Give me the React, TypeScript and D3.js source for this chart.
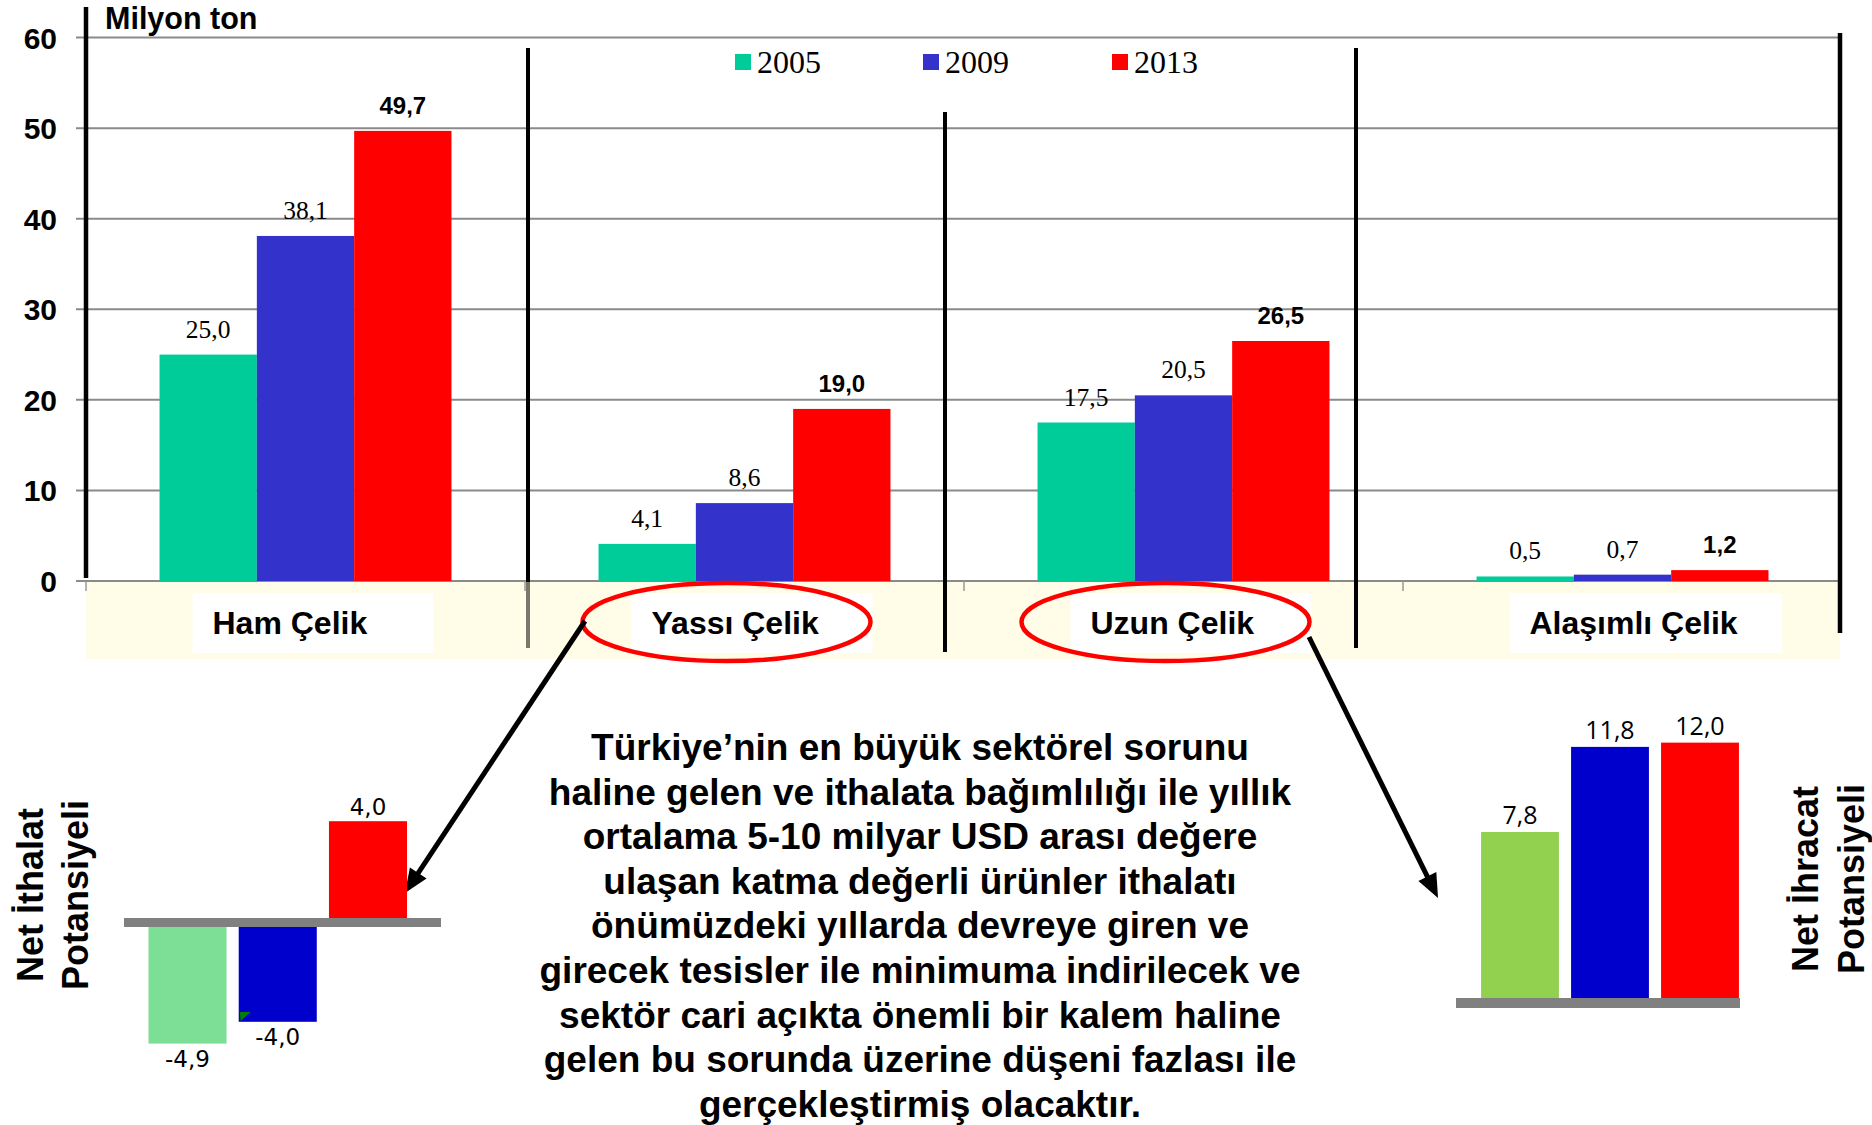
import React, { useMemo } from 'react';
import * as d3 from 'd3';

// ---------- data ----------
const categories = ['Ham Çelik', 'Yassı Çelik', 'Uzun Çelik', 'Alaşımlı Çelik'];
const years = ['2005', '2009', '2013'];
const values2005 = [25.0, 4.1, 17.5, 0.5];
const values2009 = [38.1, 8.6, 20.5, 0.7];
const values2013 = [49.7, 19.0, 26.5, 1.2];
const yTicks = [0, 10, 20, 30, 40, 50, 60];
const unitLabel = 'Milyon ton';
const highlighted = ['Yassı Çelik', 'Uzun Çelik'];

const importValues = [-4.9, -4.0, 4.0];
const exportValues = [7.8, 11.8, 12.0];
const importTitle = ['Net İthalat', 'Potansiyeli'];
const exportTitle = ['Net İhracat', 'Potansiyeli'];

const noteLines = [
  'Türkiye’nin en büyük sektörel sorunu',
  'haline gelen ve ithalata bağımlılığı ile yıllık',
  'ortalama 5-10 milyar USD arası değere',
  'ulaşan katma değerli ürünler ithalatı',
  'önümüzdeki yıllarda devreye giren ve',
  'girecek tesisler ile minimuma indirilecek ve',
  'sektör cari açıkta önemli bir kalem haline',
  'gelen bu sorunda üzerine düşeni fazlası ile',
  'gerçekleştirmiş olacaktır.',
];

const seriesColors = ['#00CC99', '#3333CC', '#FF0000'];
const importColors = ['#7DDF96', '#0000CC', '#FF0000'];
const exportColors = ['#92D050', '#0000CC', '#FF0000'];

const SANS = "'Liberation Sans', Arial, sans-serif";
const SERIF = "'Liberation Serif', 'Times New Roman', serif";

const fmt = (v: number) => d3.format('.1f')(v).replace('.', ',').replace('\u2212', '-');

function measure(text: string, font: string) {
  if (typeof document === 'undefined') return text.length * 16;
  const c = document.createElement('canvas');
  const ctx = c.getContext('2d');
  if (!ctx) return text.length * 16;
  ctx.font = font;
  return ctx.measureText(text).width;
}

function Arrow({ x1, y1, x2, y2 }: { x1: number; y1: number; x2: number; y2: number }) {
  const ang = Math.atan2(y2 - y1, x2 - x1);
  const len = 24;
  const hw = 10;
  const bx = x2 - len * Math.cos(ang);
  const by = y2 - len * Math.sin(ang);
  const px = -Math.sin(ang);
  const py = Math.cos(ang);
  const pts = [
    [x2, y2],
    [bx + px * hw, by + py * hw],
    [bx - px * hw, by - py * hw],
  ];
  return (
    <g>
      <line x1={x1} y1={y1} x2={bx + 2 * Math.cos(ang)} y2={by + 2 * Math.sin(ang)} stroke="#000" strokeWidth={5} />
      <polygon points={pts.map((p) => p.join(',')).join(' ')} fill="#000" />
    </g>
  );
}

export default function App() {
  const W = 1872;
  const H = 1125;

  // main chart scales
  const y = d3.scaleLinear().domain([0, 60]).range([581, 37.6]);
  const x0 = d3.scaleBand<string>().domain(categories).range([86, 1842]).paddingInner(0.335).paddingOuter(0.1675);
  const x1 = d3.scaleBand<string>().domain(years).range([0, x0.bandwidth()]);
  const step = x0.step();
  const series = [values2005, values2009, values2013];

  const labelWidths = useMemo(
    () => categories.map((c) => measure(c, `bold 32px ${SANS}`)),
    []
  );

  // import mini chart: positive bars rise from the top of the gray base, negative ones hang below it
  const xi = d3.scaleBand<string>().domain(years).range([142.4, 413.1]).paddingInner(0.135).paddingOuter(0.0675);
  const kI = d3.scaleLinear().domain([0, 1]).range([0, 24.2]);
  const baseTop = 918;
  const baseBottom = 925;
  // export mini chart
  const xe = d3.scaleBand<string>().domain(years).range([1475, 1745]).paddingInner(0.135).paddingOuter(0.0675);
  const ye = d3.scaleLinear().domain([0, 12.5]).range([998, 998 - 266]);

  const catCenter = (c: string) => (x0(c) as number) + x0.bandwidth() / 2;

  return (
    <svg
      width={W}
      height={H}
      viewBox={`0 0 ${W} ${H}`}
      style={{ position: 'absolute', left: 0, top: 0, background: '#fff' }}
    >
      <rect x={0} y={0} width={W} height={H} fill="#fff" />

      {/* category band */}
      <rect x={86} y={582} width={1754} height={77} fill="#FFFDE8" />

      {/* gridlines */}
      {yTicks.map((t) => (
        <line key={t} x1={76} x2={1840} y1={y(t)} y2={y(t)} stroke="#8a8a8a" strokeWidth={2} />
      ))}
      {/* y tick labels */}
      {yTicks.map((t) => (
        <text key={'l' + t} x={57} y={y(t) + 11} textAnchor="end" fontFamily={SANS} fontWeight="bold" fontSize={30} fill="#000">
          {t}
        </text>
      ))}
      <text x={105} y={29} fontFamily={SANS} fontWeight="bold" fontSize={30.5} fill="#000">
        {unitLabel}
      </text>

      {/* x axis boundary ticks */}
      {d3.range(categories.length).map((i) => (
        <line key={'tk' + i} x1={86 + i * step} x2={86 + i * step} y1={581} y2={591} stroke="#999" strokeWidth={1.5} />
      ))}

      {/* bars */}
      {categories.map((c) => (
        <g key={c} transform={`translate(${x0(c)},0)`}>
          {years.map((yr, j) => {
            const v = series[j][categories.indexOf(c)];
            return (
              <rect key={yr} x={x1(yr)} y={y(v)} width={x1.bandwidth()} height={y(0) - y(v)} fill={seriesColors[j]} />
            );
          })}
          {years.map((yr, j) => {
            const v = series[j][categories.indexOf(c)];
            const cx = (x1(yr) as number) + x1.bandwidth() / 2;
            const bold = j === 2;
            return (
              <text
                key={'t' + yr}
                x={cx}
                y={y(v) - 17}
                textAnchor="middle"
                fontFamily={bold ? SANS : SERIF}
                fontWeight={bold ? 'bold' : 'normal'}
                fontSize={bold ? 24 : 25.5}
                fill="#000"
              >
                {fmt(v)}
              </text>
            );
          })}
        </g>
      ))}

      {/* axis line */}
      <line x1={86} x2={86} y1={7} y2={578} stroke="#000" strokeWidth={4.5} />

      {/* separators */}
      <line x1={528} x2={528} y1={48} y2={582} stroke="#000" strokeWidth={4} />
      <line x1={528} x2={528} y1={582} y2={648} stroke="#77776a" strokeWidth={4} />
      <line x1={945} x2={945} y1={112} y2={652} stroke="#000" strokeWidth={4} />
      <line x1={1356} x2={1356} y1={48} y2={648} stroke="#000" strokeWidth={4} />
      <line x1={1840} x2={1840} y1={33} y2={633} stroke="#000" strokeWidth={4.5} />

      {/* legend */}
      {years.map((yr, j) => {
        const lx = [735, 923, 1112][j];
        return (
          <g key={'lg' + yr}>
            <rect x={lx} y={54} width={16} height={16} fill={seriesColors[j]} />
            <text x={lx + 22} y={73} fontFamily={SERIF} fontSize={32} fill="#000">
              {yr}
            </text>
          </g>
        );
      })}

      {/* category label boxes */}
      {categories.map((c, i) => {
        const left = catCenter(c) - 113;
        const bw = Math.max(241, labelWidths[i] + 64);
        return (
          <g key={'cb' + c}>
            <rect x={left} y={593} width={bw} height={60} fill="#fff" />
            <text x={left + 20} y={634} fontFamily={SANS} fontWeight="bold" fontSize={32} fill="#000">
              {c}
            </text>
          </g>
        );
      })}

      {/* highlight ellipses */}
      {highlighted.map((c) => (
        <ellipse key={'el' + c} cx={catCenter(c) - 18} cy={622} rx={144} ry={39} fill="none" stroke="#FF0000" strokeWidth={4.5} />
      ))}

      {/* arrows */}
      <Arrow x1={585} y1={621} x2={405} y2={893} />
      <Arrow x1={1309} y1={637} x2={1438} y2={898} />

      {/* import mini chart */}
      {importValues.map((v, j) => {
        const yr = years[j];
        const h = kI(Math.abs(v));
        const top = v >= 0 ? baseTop - h : baseBottom;
        return (
          <rect key={'im' + yr} x={xi(yr)} y={top} width={xi.bandwidth()} height={h} fill={importColors[j]} />
        );
      })}
      <rect x={124} y={918} width={317} height={9} fill="#808080" />
      <polygon points={`${(xi('2009') as number) + 1},1012 ${(xi('2009') as number) + 12},1012 ${(xi('2009') as number) + 2},1021`} fill="#008000" />
      {importValues.map((v, j) => {
        const yr = years[j];
        const cx = (xi(yr) as number) + xi.bandwidth() / 2;
        const h = kI(Math.abs(v));
        const ty = v >= 0 ? baseTop - h - 6 : baseBottom + h + 23;
        return (
          <text key={'iml' + yr} x={cx} y={ty} textAnchor="middle" fontFamily="'DejaVu Sans', Verdana, sans-serif" fontSize={23} fill="#000">
            {fmt(v)}
          </text>
        );
      })}
      {importTitle.map((t, i) => (
        <text
          key={'it' + i}
          transform={`translate(${43 + i * 45},895) rotate(-90)`}
          textAnchor="middle"
          fontFamily={SANS}
          fontWeight="bold"
          fontSize={36}
          fill="#000"
        >
          {t}
        </text>
      ))}

      {/* export mini chart */}
      {exportValues.map((v, j) => {
        const yr = years[j];
        return (
          <rect key={'ex' + yr} x={xe(yr)} y={ye(v)} width={xe.bandwidth()} height={ye(0) - ye(v)} fill={exportColors[j]} />
        );
      })}
      <rect x={1456} y={998} width={284} height={10} fill="#808080" />
      {exportValues.map((v, j) => {
        const yr = years[j];
        const cx = (xe(yr) as number) + xe.bandwidth() / 2;
        return (
          <text key={'exl' + yr} x={cx} y={ye(v) - 8} textAnchor="middle" fontFamily="'Open Sans', 'Noto Sans', sans-serif" fontSize={25} fill="#000">
            {fmt(v)}
          </text>
        );
      })}
      {exportTitle.map((t, i) => (
        <text
          key={'et' + i}
          transform={`translate(${1818 + i * 46},879) rotate(-90)`}
          textAnchor="middle"
          fontFamily={SANS}
          fontWeight="bold"
          fontSize={36}
          fill="#000"
        >
          {t}
        </text>
      ))}

      {/* note text */}
      {noteLines.map((l, i) => (
        <text key={'n' + i} x={920} y={760 + i * 44.6} textAnchor="middle" fontFamily={SANS} fontWeight="bold" fontSize={37} fill="#000">
          {l}
        </text>
      ))}
    </svg>
  );
}
